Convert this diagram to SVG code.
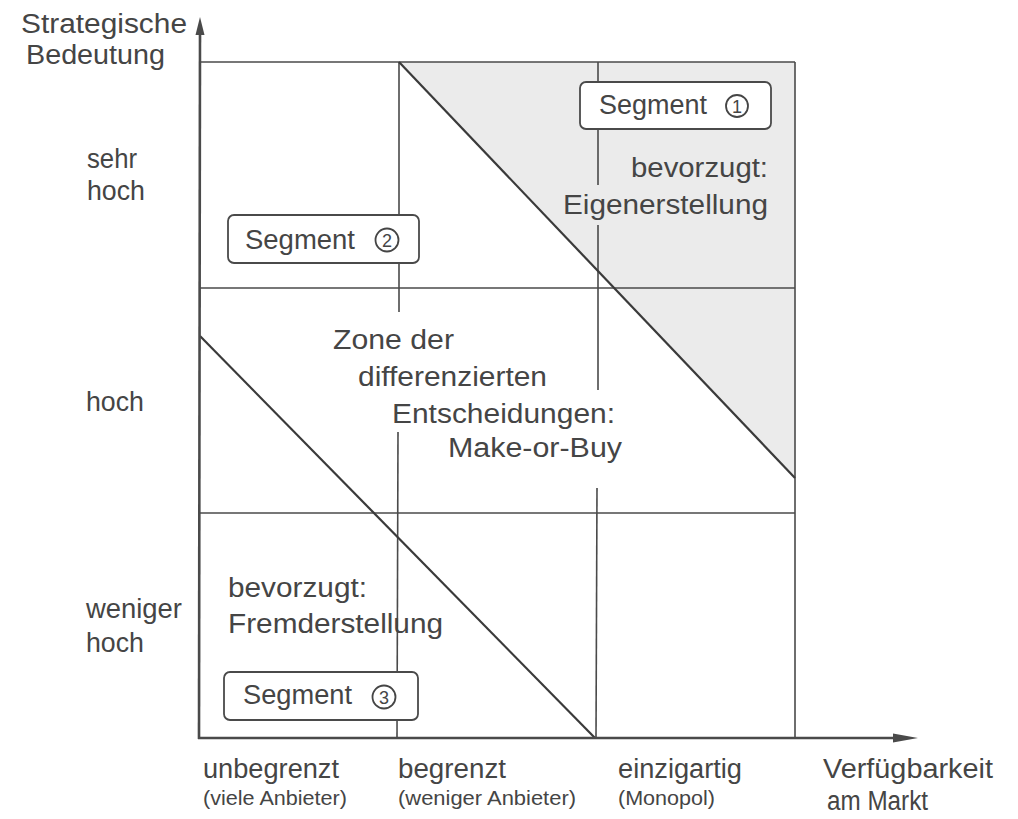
<svg xmlns="http://www.w3.org/2000/svg" width="1018" height="819" viewBox="0 0 1018 819">
  <style>
    .t { font-family: "Liberation Sans", Arial, sans-serif; font-size: 27px; fill: #454545; }
    .s { font-family: "Liberation Sans", Arial, sans-serif; font-size: 21px; fill: #454545; }
    .num { font-family: "Liberation Sans", Arial, sans-serif; font-size: 18px; fill: #454545; text-anchor: middle; }
    .grid { stroke: #4a4a4a; stroke-width: 1.6; fill: none; }
    .diag { stroke: #3a3a3a; stroke-width: 2.2; fill: none; }
    .axis { stroke: #4a4a4a; stroke-width: 2.6; fill: none; }
    .box { fill: #ffffff; stroke: #4a4a4a; stroke-width: 1.8; }
    .ring { fill: none; stroke: #454545; stroke-width: 1.8; }
  </style>

  <rect x="0" y="0" width="1018" height="819" fill="#ffffff"/>

  <!-- shaded zone: preferred in-house production -->
  <polygon id="zone-make" points="399,62 795,62 795,478" fill="#ebebeb"/>

  <!-- grid, diagonals and axes -->
  <g id="connectors">
    <line class="grid" x1="200" y1="62" x2="795" y2="62"/>
    <line class="grid" x1="200" y1="288" x2="795" y2="288"/>
    <line class="grid" x1="200" y1="513" x2="795" y2="513"/>
    <line class="grid" x1="795" y1="62" x2="795" y2="738"/>
    <!-- column "begrenzt" -->
    <line class="grid" x1="399" y1="62" x2="399" y2="312"/>
    <line class="grid" x1="398" y1="432" x2="397" y2="738"/>
    <!-- column "einzigartig" -->
    <line class="grid" x1="598" y1="62" x2="598" y2="82"/>
    <line class="grid" x1="598" y1="129" x2="598" y2="185"/>
    <line class="grid" x1="598" y1="225" x2="598" y2="390"/>
    <line class="grid" x1="597" y1="488" x2="596" y2="738"/>
    <!-- boundary lines -->
    <line class="diag" x1="399" y1="62" x2="795" y2="478"/>
    <line class="diag" x1="200" y1="336" x2="595" y2="738"/>
    <!-- axes -->
    <line class="axis" x1="199" y1="739" x2="200" y2="32"/>
    <polygon points="200,17 195.5,35 204.5,35" fill="#4a4a4a"/>
    <line class="axis" x1="198" y1="738" x2="896" y2="738"/>
    <polygon points="918,738 893,733.5 893,742.5" fill="#4a4a4a"/>
  </g>

  <!-- axis titles -->
  <g id="y-title">
    <text class="t" x="21" y="33" textLength="166" lengthAdjust="spacingAndGlyphs">Strategische</text>
    <text class="t" x="26" y="64" textLength="139" lengthAdjust="spacingAndGlyphs">Bedeutung</text>
  </g>
  <g id="x-title">
    <text class="t" x="823" y="778" font-size="26" textLength="170" lengthAdjust="spacingAndGlyphs">Verfügbarkeit</text>
    <text class="t" x="827" y="810" font-size="26" textLength="101" lengthAdjust="spacingAndGlyphs">am Markt</text>
  </g>

  <!-- row labels -->
  <g id="row-sehr-hoch">
    <text class="t" x="87" y="168" textLength="50" lengthAdjust="spacingAndGlyphs">sehr</text>
    <text class="t" x="87" y="200" textLength="58" lengthAdjust="spacingAndGlyphs">hoch</text>
  </g>
  <g id="row-hoch">
    <text class="t" x="86" y="411" textLength="58" lengthAdjust="spacingAndGlyphs">hoch</text>
  </g>
  <g id="row-weniger-hoch">
    <text class="t" x="86" y="618" textLength="96" lengthAdjust="spacingAndGlyphs">weniger</text>
    <text class="t" x="86" y="652" textLength="58" lengthAdjust="spacingAndGlyphs">hoch</text>
  </g>

  <!-- column labels -->
  <g id="col-unbegrenzt">
    <text class="t" x="203" y="778" textLength="136" lengthAdjust="spacingAndGlyphs">unbegrenzt</text>
    <text class="s" x="203" y="805" textLength="144" lengthAdjust="spacingAndGlyphs">(viele Anbieter)</text>
  </g>
  <g id="col-begrenzt">
    <text class="t" x="398" y="778" textLength="108" lengthAdjust="spacingAndGlyphs">begrenzt</text>
    <text class="s" x="398" y="805" textLength="178" lengthAdjust="spacingAndGlyphs">(weniger Anbieter)</text>
  </g>
  <g id="col-einzigartig">
    <text class="t" x="618" y="778" textLength="124" lengthAdjust="spacingAndGlyphs">einzigartig</text>
    <text class="s" x="618" y="805" textLength="97" lengthAdjust="spacingAndGlyphs">(Monopol)</text>
  </g>

  <!-- segment 1 -->
  <g id="segment-1">
    <rect class="box" x="580" y="82" width="191" height="47" rx="6"/>
    <text class="t" x="599" y="114" font-size="28" textLength="108" lengthAdjust="spacingAndGlyphs">Segment</text>
    <circle class="ring" cx="737" cy="106" r="11"/>
    <text class="num" x="737" y="112.5">1</text>
  </g>
  <g id="label-eigen">
    <text class="t" x="631" y="177" textLength="137" lengthAdjust="spacingAndGlyphs">bevorzugt:</text>
    <text class="t" x="563" y="214" textLength="205" lengthAdjust="spacingAndGlyphs">Eigenerstellung</text>
  </g>

  <!-- segment 2 -->
  <g id="segment-2">
    <rect class="box" x="228" y="215" width="191" height="48" rx="6"/>
    <text class="t" x="245" y="249" font-size="28" textLength="110" lengthAdjust="spacingAndGlyphs">Segment</text>
    <circle class="ring" cx="387" cy="240" r="11.5"/>
    <text class="num" x="387" y="246.5">2</text>
  </g>

  <!-- middle zone -->
  <g id="label-zone">
    <text class="t" x="333" y="349" textLength="121" lengthAdjust="spacingAndGlyphs">Zone der</text>
    <text class="t" x="358" y="386" textLength="189" lengthAdjust="spacingAndGlyphs">differenzierten</text>
    <text class="t" x="392" y="423" textLength="223" lengthAdjust="spacingAndGlyphs">Entscheidungen:</text>
    <text class="t" x="448" y="457" textLength="174" lengthAdjust="spacingAndGlyphs">Make-or-Buy</text>
  </g>

  <!-- lower zone -->
  <g id="label-fremd">
    <text class="t" x="228" y="597" textLength="139" lengthAdjust="spacingAndGlyphs">bevorzugt:</text>
    <text class="t" x="228" y="633" textLength="215" lengthAdjust="spacingAndGlyphs">Fremderstellung</text>
  </g>

  <!-- segment 3 -->
  <g id="segment-3">
    <rect class="box" x="224" y="672" width="194" height="48" rx="6"/>
    <text class="t" x="243" y="704" font-size="28" textLength="109" lengthAdjust="spacingAndGlyphs">Segment</text>
    <circle class="ring" cx="384" cy="697" r="11.5"/>
    <text class="num" x="384" y="703.5">3</text>
  </g>
</svg>
